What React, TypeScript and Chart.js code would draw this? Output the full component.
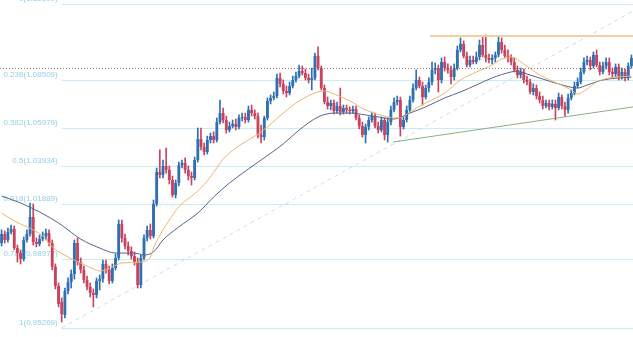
import React, { useEffect, useRef } from "react";
import { Chart, registerables } from "chart.js";

Chart.register(...registerables);

// ---- Candles (price values) ----
const open = [
  0.9981, 1.0029, 0.9997, 1.0040, 1.0056, 0.9954, 0.9927, 0.9895, 0.9997, 1.0029,
  1.0120, 0.9986, 0.9976, 1.0002, 1.0018, 1.0034, 0.9981, 0.9853, 0.9751, 0.9665,
  0.9596, 0.9724, 0.9772, 0.9815, 0.9981, 0.9879, 0.9837, 0.9783, 0.9746, 0.9713,
  0.9703, 0.9778, 0.9788, 0.9869, 0.9837, 0.9778, 0.9847, 0.9901, 1.0083, 1.0008,
  0.9965, 0.9938, 0.9911, 0.9879, 0.9756, 0.9901, 1.0008, 1.0051, 1.0018, 1.0190,
  1.0361, 1.0345, 1.0393, 1.0372, 1.0318, 1.0238, 1.0302, 1.0398, 1.0409, 1.0372,
  1.0339, 1.0329, 1.0425, 1.0537, 1.0495, 1.0468, 1.0532, 1.0553, 1.0532, 1.0628,
  1.0676, 1.0639, 1.0585, 1.0607, 1.0618, 1.0602, 1.0650, 1.0655, 1.0639, 1.0693,
  1.0676, 1.0660, 1.0559, 1.0548, 1.0650, 1.0741, 1.0757, 1.0767, 1.0864, 1.0832,
  1.0794, 1.0783, 1.0821, 1.0853, 1.0874, 1.0901, 1.0890, 1.0864, 1.0853, 1.0864,
  1.0981, 1.0917, 1.0810, 1.0735, 1.0714, 1.0730, 1.0687, 1.0714, 1.0682, 1.0703,
  1.0693, 1.0687, 1.0698, 1.0650, 1.0607, 1.0559, 1.0602, 1.0639, 1.0660, 1.0607,
  1.0585, 1.0639, 1.0559, 1.0628, 1.0693, 1.0735, 1.0746, 1.0602, 1.0639, 1.0693,
  1.0746, 1.0810, 1.0853, 1.0821, 1.0762, 1.0810, 1.0842, 1.0907, 1.0917, 1.0853,
  1.0949, 1.0917, 1.0907, 1.0869, 1.0917, 1.1014, 1.1046, 1.0981, 1.0933, 1.0960,
  1.0949, 1.0976, 1.1040, 1.0987, 1.0971, 1.0960, 1.0971, 1.0987, 1.1056, 1.1014,
  1.0981, 1.0971, 1.0949, 1.0907, 1.0880, 1.0896, 1.0853, 1.0842, 1.0789, 1.0810,
  1.0767, 1.0746, 1.0714, 1.0730, 1.0709, 1.0725, 1.0703, 1.0762, 1.0714, 1.0693,
  1.0757, 1.0783, 1.0821, 1.0842, 1.0896, 1.0949, 1.0960, 1.0928, 1.0987, 1.0933,
  1.0896, 1.0928, 1.0949, 1.0896, 1.0885, 1.0923, 1.0869, 1.0896, 1.0864, 1.0928,
];

const high = [
  1.0051, 1.0045, 1.0061, 1.0077, 1.0072, 0.9970, 0.9944, 1.0013, 1.0051, 1.0195,
  1.0190, 1.0008, 1.0024, 1.0040, 1.0056, 1.0051, 0.9997, 0.9869, 0.9767, 0.9687,
  0.9740, 0.9794, 0.9837, 0.9997, 1.0008, 0.9901, 0.9858, 0.9804, 0.9767, 0.9735,
  0.9794, 0.9810, 0.9890, 0.9890, 0.9858, 0.9869, 0.9922, 1.0104, 1.0104, 1.0029,
  0.9986, 0.9960, 0.9933, 0.9901, 0.9917, 1.0024, 1.0072, 1.0083, 1.0211, 1.0382,
  1.0479, 1.0425, 1.0489, 1.0393, 1.0339, 1.0318, 1.0414, 1.0425, 1.0436, 1.0393,
  1.0361, 1.0441, 1.0596, 1.0596, 1.0516, 1.0553, 1.0569, 1.0575, 1.0650, 1.0746,
  1.0703, 1.0660, 1.0628, 1.0639, 1.0644, 1.0666, 1.0676, 1.0676, 1.0714, 1.0719,
  1.0693, 1.0676, 1.0612, 1.0660, 1.0757, 1.0773, 1.0789, 1.0885, 1.0890, 1.0853,
  1.0821, 1.0842, 1.0874, 1.0896, 1.0933, 1.0928, 1.0912, 1.0885, 1.0917, 1.0997,
  1.1030, 1.0928, 1.0826, 1.0762, 1.0746, 1.0746, 1.0735, 1.0810, 1.0719, 1.0719,
  1.0709, 1.0714, 1.0714, 1.0666, 1.0628, 1.0618, 1.0655, 1.0682, 1.0676, 1.0628,
  1.0655, 1.0650, 1.0650, 1.0714, 1.0757, 1.0767, 1.0762, 1.0660, 1.0714, 1.0767,
  1.0832, 1.0907, 1.0869, 1.0842, 1.0826, 1.0864, 1.0949, 1.0944, 1.0933, 1.0971,
  1.0976, 1.0939, 1.0928, 1.0939, 1.1035, 1.1078, 1.1062, 1.1003, 1.0981, 1.0981,
  1.1003, 1.1067, 1.1088, 1.1094, 1.0992, 1.0987, 1.1003, 1.1088, 1.1078, 1.1040,
  1.1014, 1.0987, 1.0971, 1.0928, 1.0917, 1.0912, 1.0874, 1.0858, 1.0832, 1.0826,
  1.0789, 1.0767, 1.0746, 1.0746, 1.0746, 1.0746, 1.0783, 1.0773, 1.0735, 1.0778,
  1.0800, 1.0842, 1.0864, 1.0917, 1.0971, 1.0981, 1.0976, 1.1003, 1.1014, 1.0949,
  1.0949, 1.0971, 1.0971, 1.0917, 1.0939, 1.0939, 1.0917, 1.0912, 1.0944, 1.0987,
];

const low = [
  0.9965, 0.9981, 0.9986, 1.0029, 0.9944, 0.9879, 0.9869, 0.9885, 0.9986, 1.0018,
  0.9970, 0.9960, 0.9965, 0.9992, 0.9997, 0.9965, 0.9837, 0.9735, 0.9639, 0.9558,
  0.9580, 0.9708, 0.9740, 0.9788, 0.9863, 0.9820, 0.9767, 0.9730, 0.9692, 0.9639,
  0.9687, 0.9730, 0.9772, 0.9820, 0.9762, 0.9767, 0.9837, 0.9890, 0.9986, 0.9949,
  0.9917, 0.9895, 0.9863, 0.9740, 0.9740, 0.9890, 0.9992, 1.0002, 1.0008, 1.0179,
  1.0329, 1.0329, 1.0355, 1.0297, 1.0227, 1.0222, 1.0286, 1.0382, 1.0355, 1.0318,
  1.0291, 1.0318, 1.0414, 1.0479, 1.0452, 1.0457, 1.0516, 1.0516, 1.0521, 1.0618,
  1.0623, 1.0569, 1.0575, 1.0596, 1.0585, 1.0591, 1.0634, 1.0623, 1.0628, 1.0660,
  1.0644, 1.0543, 1.0516, 1.0532, 1.0639, 1.0725, 1.0746, 1.0757, 1.0816, 1.0778,
  1.0762, 1.0773, 1.0810, 1.0842, 1.0864, 1.0880, 1.0853, 1.0837, 1.0800, 1.0853,
  1.0907, 1.0800, 1.0725, 1.0698, 1.0693, 1.0671, 1.0676, 1.0666, 1.0671, 1.0676,
  1.0671, 1.0676, 1.0639, 1.0591, 1.0548, 1.0516, 1.0585, 1.0628, 1.0596, 1.0569,
  1.0575, 1.0532, 1.0521, 1.0612, 1.0682, 1.0719, 1.0553, 1.0591, 1.0628, 1.0682,
  1.0735, 1.0800, 1.0810, 1.0719, 1.0751, 1.0789, 1.0826, 1.0885, 1.0789, 1.0837,
  1.0901, 1.0890, 1.0832, 1.0853, 1.0907, 1.1003, 1.0971, 1.0923, 1.0923, 1.0939,
  1.0939, 1.0960, 1.0976, 1.0949, 1.0944, 1.0939, 1.0949, 1.0976, 1.0997, 1.0971,
  1.0949, 1.0933, 1.0896, 1.0864, 1.0864, 1.0837, 1.0826, 1.0778, 1.0773, 1.0751,
  1.0730, 1.0698, 1.0703, 1.0693, 1.0698, 1.0639, 1.0693, 1.0698, 1.0660, 1.0676,
  1.0746, 1.0773, 1.0810, 1.0832, 1.0885, 1.0933, 1.0907, 1.0917, 1.0923, 1.0880,
  1.0885, 1.0912, 1.0880, 1.0864, 1.0869, 1.0853, 1.0858, 1.0848, 1.0853, 1.0917,
];

const close = [
  1.0029, 0.9997, 1.0040, 1.0056, 0.9954, 0.9927, 0.9895, 0.9997, 1.0029, 1.0120,
  0.9986, 0.9976, 1.0002, 1.0018, 1.0034, 0.9981, 0.9853, 0.9751, 0.9655, 0.9601,
  0.9724, 0.9772, 0.9815, 0.9981, 0.9879, 0.9837, 0.9783, 0.9746, 0.9713, 0.9703,
  0.9778, 0.9788, 0.9869, 0.9837, 0.9778, 0.9847, 0.9901, 1.0083, 1.0008, 0.9965,
  0.9938, 0.9911, 0.9879, 0.9756, 0.9901, 1.0008, 1.0051, 1.0018, 1.0190, 1.0361,
  1.0345, 1.0393, 1.0372, 1.0318, 1.0238, 1.0302, 1.0398, 1.0409, 1.0372, 1.0339,
  1.0329, 1.0425, 1.0537, 1.0495, 1.0468, 1.0532, 1.0553, 1.0532, 1.0628, 1.0676,
  1.0639, 1.0585, 1.0607, 1.0618, 1.0602, 1.0650, 1.0655, 1.0639, 1.0693, 1.0676,
  1.0660, 1.0559, 1.0548, 1.0650, 1.0741, 1.0757, 1.0767, 1.0864, 1.0832, 1.0794,
  1.0783, 1.0821, 1.0853, 1.0874, 1.0901, 1.0890, 1.0864, 1.0853, 1.0864, 1.0981,
  1.0917, 1.0810, 1.0735, 1.0714, 1.0730, 1.0687, 1.0714, 1.0682, 1.0703, 1.0693,
  1.0687, 1.0698, 1.0650, 1.0607, 1.0559, 1.0602, 1.0639, 1.0660, 1.0607, 1.0585,
  1.0639, 1.0559, 1.0628, 1.0693, 1.0735, 1.0746, 1.0602, 1.0639, 1.0693, 1.0746,
  1.0810, 1.0853, 1.0821, 1.0762, 1.0810, 1.0842, 1.0907, 1.0917, 1.0853, 1.0949,
  1.0917, 1.0907, 1.0869, 1.0917, 1.1014, 1.1046, 1.0981, 1.0933, 1.0960, 1.0949,
  1.0976, 1.1040, 1.0987, 1.0971, 1.0960, 1.0971, 1.0987, 1.1056, 1.1014, 1.0981,
  1.0971, 1.0949, 1.0907, 1.0880, 1.0896, 1.0853, 1.0842, 1.0789, 1.0810, 1.0767,
  1.0746, 1.0714, 1.0730, 1.0709, 1.0725, 1.0703, 1.0762, 1.0714, 1.0693, 1.0757,
  1.0783, 1.0821, 1.0842, 1.0896, 1.0949, 1.0960, 1.0928, 1.0987, 1.0933, 1.0896,
  1.0928, 1.0949, 1.0896, 1.0885, 1.0923, 1.0869, 1.0896, 1.0864, 1.0928, 1.0971,
];

// Candle categories (no visible axis labels)
const candleLabels = close.map((_, i) => String(i + 1));

// ---- Moving averages read at sample candles ----
const fastMAIndex = [0, 4, 8, 13, 16, 21, 25, 29, 31, 35, 38, 44, 47, 48, 51, 53, 56, 62, 66, 70, 74, 78, 82, 89, 94, 100, 102, 105, 110, 115, 121, 124, 126, 129, 134, 140, 145, 150, 155, 158, 161, 165, 170, 176, 180, 182, 185, 188, 192, 199];
const fastMAValue = [1.0141, 1.0099, 1.0067, 1.0018, 0.9960, 0.9906, 0.9874, 0.9842, 0.9831, 0.9853, 0.9874, 0.9879, 0.9906, 0.9954, 1.0051, 1.0104, 1.0174, 1.0259, 1.0334, 1.0430, 1.0489, 1.0532, 1.0575, 1.0676, 1.0741, 1.0789, 1.0794, 1.0778, 1.0741, 1.0693, 1.0660, 1.0650, 1.0650, 1.0682, 1.0730, 1.0783, 1.0853, 1.0896, 1.0933, 1.0965, 1.0976, 1.0939, 1.0880, 1.0832, 1.0800, 1.0778, 1.0805, 1.0842, 1.0864, 1.0874];

const slowMAIndex = [0, 6, 12, 18, 21, 25, 31, 36, 42, 45, 48, 51, 56, 62, 67, 72, 78, 82, 89, 94, 100, 105, 110, 115, 121, 124, 129, 134, 140, 145, 150, 155, 161, 163, 166, 171, 176, 182, 185, 190, 199];
const slowMAValue = [1.0232, 1.0195, 1.0147, 1.0088, 1.0051, 1.0002, 0.9954, 0.9927, 0.9927, 0.9917, 0.9933, 0.9997, 1.0067, 1.0141, 1.0227, 1.0302, 1.0377, 1.0425, 1.0511, 1.0585, 1.0655, 1.0676, 1.0676, 1.0666, 1.0650, 1.0644, 1.0676, 1.0709, 1.0757, 1.0789, 1.0826, 1.0864, 1.0896, 1.0901, 1.0885, 1.0858, 1.0832, 1.0810, 1.0826, 1.0853, 1.0869];

// ---- Fibonacci retracement ----
const fibRatios = [0, 0.236, 0.382, 0.5, 0.618, 0.786, 1];
const fibPrices = [1.12599, 1.08509, 1.05979, 1.03934, 1.01889, 0.98977, 0.95269];
const fibStartCandle = 19;

// ---- Drawn lines (candle position, price) ----
const fibTrendFrom = [19, 0.95269];
const fibTrendTo = [203.6, 1.12599];
const supportFrom = [123.7, 1.0521];
const supportTo = [199.5, 1.0709];
const resistanceFrom = [135.4, 1.1088];
const resistanceTo = [199.5, 1.1088];
const lastPrice = 1.0917;

const priceMin = 0.9478;
const priceMax = 1.1281;

const BULL = "#2f70b2";
const BEAR = "#c9435e";

function sparse(idx: number[], val: number[]) {
  const arr: (number | null)[] = close.map(() => null);
  idx.forEach((k, j) => { arr[k] = val[j]; });
  return arr;
}

const overlayPlugin = {
  id: "overlay",
  beforeDatasetsDraw(chart: any) {
    const { ctx, chartArea, scales } = chart;
    const x = scales.x, y = scales.y;
    ctx.save();
    const xs = x.getPixelForValue(fibStartCandle);
    ctx.font = "8px 'Liberation Sans', Arial, sans-serif";
    ctx.textAlign = "right";
    ctx.textBaseline = "alphabetic";
    fibPrices.forEach((p, k) => {
      const py = Math.round(y.getPixelForValue(p)) + 0.5;
      ctx.strokeStyle = "rgba(175,228,242,0.7)";
      ctx.lineWidth = 1;
      ctx.setLineDash([]);
      ctx.beginPath();
      ctx.moveTo(xs, py);
      ctx.lineTo(chartArea.right, py);
      ctx.stroke();
      ctx.fillStyle = "rgba(120,195,225,0.8)";
      ctx.fillText(`${fibRatios[k]}(${p.toFixed(5)})`, xs - 4, py - 4);
    });
    // dashed fib trend line
    const ax = x.getPixelForValue(fibTrendFrom[0]);
    const ay = y.getPixelForValue(fibTrendFrom[1]);
    const bx = x.getPixelForValue(fibTrendTo[0]);
    const by = y.getPixelForValue(fibTrendTo[1]);
    ctx.strokeStyle = "rgba(175,215,238,0.75)";
    ctx.lineWidth = 1;
    ctx.setLineDash([4, 4]);
    ctx.beginPath();
    ctx.moveTo(ax, ay);
    ctx.lineTo(bx, by);
    ctx.stroke();
    ctx.restore();
  },
  afterDatasetsDraw(chart: any) {
    const { ctx, chartArea, scales } = chart;
    const x = scales.x, y = scales.y;
    ctx.save();
    // last price dotted line
    const ly = Math.round(y.getPixelForValue(lastPrice)) + 0.5;
    ctx.strokeStyle = "rgba(150,70,70,0.75)";
    ctx.lineWidth = 1;
    ctx.setLineDash([1, 2]);
    ctx.beginPath();
    ctx.moveTo(chartArea.left, ly);
    ctx.lineTo(chartArea.right, ly);
    ctx.stroke();
    ctx.setLineDash([]);
    // resistance
    ctx.strokeStyle = "rgba(243,205,155,0.95)";
    ctx.lineWidth = 2;
    ctx.beginPath();
    ctx.moveTo(x.getPixelForValue(resistanceFrom[0]), y.getPixelForValue(resistanceFrom[1]));
    ctx.lineTo(x.getPixelForValue(resistanceTo[0]), y.getPixelForValue(resistanceTo[1]));
    ctx.stroke();
    // support
    ctx.strokeStyle = "rgba(130,165,115,0.9)";
    ctx.lineWidth = 1;
    ctx.beginPath();
    ctx.moveTo(x.getPixelForValue(supportFrom[0]), y.getPixelForValue(supportFrom[1]));
    ctx.lineTo(x.getPixelForValue(supportTo[0]), y.getPixelForValue(supportTo[1]));
    ctx.stroke();
    ctx.restore();
  },
};

export default function App() {
  const ref = useRef<HTMLCanvasElement>(null);
  useEffect(() => {
    const colors = close.map((c, i) => (c >= open[i] ? BULL : BEAR));
    const chart = new Chart(ref.current as HTMLCanvasElement, {
      type: "bar",
      data: {
        labels: candleLabels,
        datasets: [
          {
            type: "line",
            data: sparse(fastMAIndex, fastMAValue),
            borderColor: "#f0b46c",
            borderWidth: 1,
            pointRadius: 0,
            spanGaps: true,
            cubicInterpolationMode: "monotone",
          } as any,
          {
            type: "line",
            data: sparse(slowMAIndex, slowMAValue),
            borderColor: "#55638e",
            borderWidth: 1,
            pointRadius: 0,
            spanGaps: true,
            cubicInterpolationMode: "monotone",
          } as any,
          {
            type: "bar",
            data: open.map((o, i) => [o, close[i]]),
            backgroundColor: colors,
            borderWidth: 0,
            grouped: false,
            categoryPercentage: 1,
            barPercentage: 0.9,
            minBarLength: 1,
          } as any,
          {
            type: "bar",
            data: low.map((l, i) => [l, high[i]]),
            backgroundColor: colors,
            borderWidth: 0,
            grouped: false,
            barThickness: 1,
          } as any,
        ],
      },
      options: {
        responsive: false,
        animation: false,
        devicePixelRatio: 1,
        layout: { padding: 0 },
        plugins: { legend: { display: false }, tooltip: { enabled: false } },
        scales: {
          x: { type: "category", display: false, offset: true, grid: { display: false } },
          y: { display: false, min: priceMin, max: priceMax, grid: { display: false } },
        },
      },
      plugins: [overlayPlugin],
    });
    return () => chart.destroy();
  }, []);
  return (
    <div style={{ position: "fixed", left: 0, top: 0, width: 633, height: 337, background: "#ffffff" }}>
      <canvas ref={ref} width={633} height={337} style={{ display: "block", width: 633, height: 337 }} />
    </div>
  );
}
